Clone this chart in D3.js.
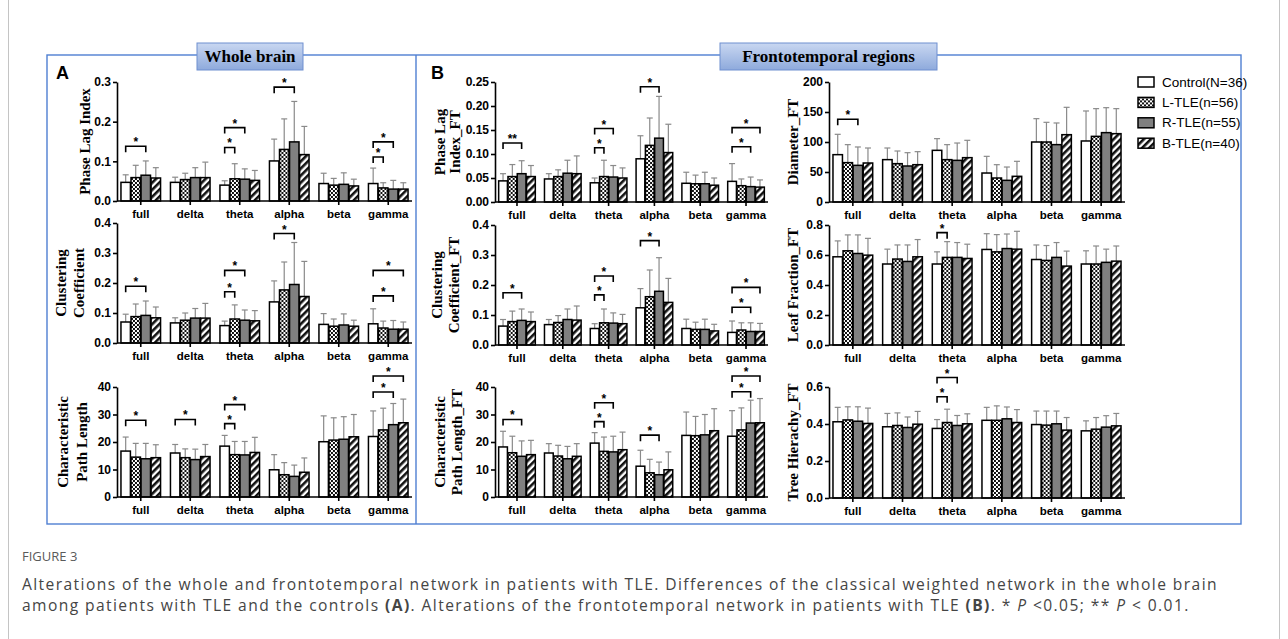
<!DOCTYPE html>
<html>
<head>
<meta charset="utf-8">
<script src="https://cdn.jsdelivr.net/npm/d3@7"></script>
<style>
body { margin: 0; background: #fff; }
svg { display: block; }
</style>
</head>
<body>
<script>
var bands = ["full", "delta", "theta", "alpha", "beta", "gamma"];
var groups = ["Control(N=36)", "L-TLE(n=56)", "R-TLE(n=55)", "B-TLE(n=40)"];

// significance rows: [band, from group, to group, bracket level (axis units), label]

// Whole brain: phase lag index
var pliTicks = [0, 0.1, 0.2, 0.3];
var pliMean = [[0.047, 0.059, 0.065, 0.058], [0.047, 0.054, 0.059, 0.059], [0.040, 0.056, 0.055, 0.052],
               [0.101, 0.130, 0.149, 0.117], [0.044, 0.040, 0.042, 0.038], [0.044, 0.033, 0.030, 0.030]];
var pliUpper = [[0.066, 0.090, 0.101, 0.084], [0.060, 0.070, 0.084, 0.098], [0.051, 0.094, 0.081, 0.077],
                [0.156, 0.207, 0.251, 0.188], [0.070, 0.057, 0.071, 0.055], [0.083, 0.046, 0.052, 0.046]];
var pliSig = [["full", 0, 2, 0.138, "*"], ["theta", 0, 1, 0.135, "*"], ["theta", 0, 2, 0.185, "*"],
              ["alpha", 0, 2, 0.287, "*"], ["gamma", 0, 1, 0.111, "*"], ["gamma", 0, 2, 0.149, "*"]];

// Whole brain: clustering coefficient
var ccTicks = [0, 0.1, 0.2, 0.3, 0.4];
var ccMean = [[0.070, 0.088, 0.092, 0.084], [0.067, 0.076, 0.083, 0.083], [0.058, 0.080, 0.076, 0.074],
              [0.137, 0.177, 0.195, 0.155], [0.062, 0.056, 0.060, 0.056], [0.064, 0.050, 0.046, 0.046]];
var ccUpper = [[0.096, 0.130, 0.140, 0.120], [0.084, 0.100, 0.115, 0.132], [0.073, 0.127, 0.110, 0.108],
               [0.207, 0.270, 0.335, 0.272], [0.098, 0.080, 0.097, 0.076], [0.114, 0.073, 0.075, 0.070]];
var ccSig = [["full", 0, 2, 0.189, "*"], ["theta", 0, 1, 0.171, "*"], ["theta", 0, 2, 0.242, "*"],
             ["alpha", 0, 2, 0.365, "*"], ["gamma", 0, 2, 0.157, "*"], ["gamma", 0, 3, 0.242, "*"]];

// Whole brain: characteristic path length
var cplTicks = [0, 10, 20, 30, 40];
var cplMean = [[16.7, 14.5, 13.9, 14.3], [16.0, 14.3, 13.6, 14.7], [18.5, 15.4, 15.3, 16.2],
               [9.9, 8.1, 7.5, 9.0], [20.1, 20.7, 21.0, 21.9], [22.0, 24.4, 26.3, 27.0]];
var cplUpper = [[21.8, 19.5, 19.5, 19.0], [19.1, 17.5, 17.4, 19.1], [22.4, 20.2, 20.2, 21.7],
                [15.4, 12.5, 11.6, 14.2], [29.5, 28.8, 29.2, 30.0], [31.3, 32.3, 34.0, 35.6]];
var cplSig = [["full", 0, 2, 27.9, "*"], ["delta", 0, 2, 28.2, "*"], ["theta", 0, 1, 26.7, "*"], ["theta", 0, 2, 33.6, "*"],
              ["gamma", 0, 2, 38.2, "*"], ["gamma", 0, 3, 44.0, "*"]];

// Frontotemporal: phase lag index
var pliFtTicks = [0, 0.05, 0.10, 0.15, 0.20, 0.25];
var pliFtMean = [[0.044, 0.053, 0.059, 0.053], [0.048, 0.053, 0.060, 0.059], [0.040, 0.053, 0.052, 0.050],
                 [0.090, 0.118, 0.133, 0.103], [0.039, 0.038, 0.038, 0.035], [0.043, 0.034, 0.032, 0.031]];
var pliFtUpper = [[0.059, 0.078, 0.086, 0.076], [0.059, 0.067, 0.087, 0.096], [0.050, 0.087, 0.076, 0.071],
                  [0.138, 0.175, 0.220, 0.162], [0.062, 0.056, 0.062, 0.050], [0.080, 0.048, 0.052, 0.046]];
var pliFtSig = [["full", 0, 2, 0.123, "**"], ["theta", 0, 1, 0.113, "*"], ["theta", 0, 2, 0.153, "*"],
                ["alpha", 0, 2, 0.240, "*"], ["gamma", 0, 2, 0.115, "*"], ["gamma", 0, 3, 0.155, "*"]];

// Frontotemporal: clustering coefficient
var ccFtTicks = [0, 0.1, 0.2, 0.3, 0.4];
var ccFtMean = [[0.063, 0.078, 0.082, 0.078], [0.068, 0.075, 0.085, 0.083], [0.055, 0.074, 0.073, 0.071],
                [0.124, 0.161, 0.179, 0.142], [0.055, 0.052, 0.052, 0.047], [0.042, 0.050, 0.045, 0.045]];
var ccFtUpper = [[0.085, 0.113, 0.120, 0.110], [0.085, 0.098, 0.120, 0.130], [0.071, 0.120, 0.107, 0.102],
                 [0.188, 0.250, 0.291, 0.222], [0.086, 0.076, 0.086, 0.069], [0.080, 0.074, 0.074, 0.072]];
var ccFtSig = [["full", 0, 2, 0.174, "*"], ["theta", 0, 1, 0.167, "*"], ["theta", 0, 2, 0.230, "*"],
               ["alpha", 0, 2, 0.348, "*"], ["gamma", 0, 2, 0.126, "*"], ["gamma", 0, 3, 0.192, "*"]];

// Frontotemporal: characteristic path length
var cplFtTicks = [0, 10, 20, 30, 40];
var cplFtMean = [[18.2, 16.1, 14.8, 15.4], [16.0, 14.9, 13.9, 14.8], [19.6, 16.6, 16.4, 17.2],
                 [11.2, 8.8, 8.1, 9.9], [22.4, 22.3, 22.6, 24.1], [22.1, 24.4, 26.9, 27.0]];
var cplFtUpper = [[23.9, 22.1, 20.4, 20.6], [19.4, 18.8, 18.4, 19.4], [23.4, 21.8, 22.1, 23.6],
                  [17.0, 13.7, 12.7, 16.4], [30.9, 29.3, 30.0, 32.1], [31.4, 32.4, 35.2, 35.8]];
var cplFtSig = [["full", 0, 2, 28.2, "*"], ["theta", 0, 1, 27.4, "*"], ["theta", 0, 2, 34.3, "*"],
                ["alpha", 0, 2, 22.5, "*"], ["gamma", 0, 2, 38.3, "*"], ["gamma", 0, 3, 44.0, "*"]];

// Frontotemporal: diameter
var diaTicks = [0, 50, 100, 150, 200];
var diaMean = [[78.9, 65.6, 61.1, 65.0], [70.6, 63.9, 60.0, 62.2], [86.1, 70.6, 69.4, 73.9],
               [48.3, 40.0, 36.1, 42.8], [100.0, 100.0, 95.6, 112.2], [101.7, 109.4, 115.6, 113.9]];
var diaUpper = [[112.8, 95.6, 91.7, 90.0], [90.0, 85.0, 82.2, 83.9], [105.6, 95.6, 98.3, 102.8],
                [76.1, 62.2, 58.3, 67.8], [138.9, 132.8, 131.7, 157.8], [151.7, 155.6, 157.2, 155.6]];
var diaSig = [["full", 0, 2, 137.8, "*"]];

// Frontotemporal: leaf fraction
var leafTicks = [0, 0.2, 0.4, 0.6, 0.8];
var leafMean = [[0.588, 0.628, 0.610, 0.599], [0.540, 0.573, 0.557, 0.588], [0.540, 0.584, 0.584, 0.577],
                [0.637, 0.621, 0.643, 0.639], [0.570, 0.564, 0.584, 0.526], [0.540, 0.540, 0.551, 0.559]];
var leafUpper = [[0.694, 0.734, 0.734, 0.711], [0.639, 0.667, 0.667, 0.703], [0.621, 0.689, 0.683, 0.672],
                 [0.742, 0.736, 0.740, 0.758], [0.667, 0.663, 0.683, 0.626], [0.628, 0.660, 0.639, 0.660]];
var leafSig = [["theta", 0, 1, 0.749, "*"]];

// Frontotemporal: tree hierarchy
var treeTicks = [0, 0.2, 0.4, 0.6];
var treeMean = [[0.412, 0.422, 0.415, 0.403], [0.385, 0.392, 0.381, 0.399], [0.376, 0.408, 0.392, 0.401],
                [0.420, 0.420, 0.428, 0.408], [0.397, 0.394, 0.401, 0.367], [0.363, 0.372, 0.383, 0.390]];
var treeUpper = [[0.490, 0.493, 0.493, 0.486], [0.457, 0.460, 0.438, 0.468], [0.424, 0.480, 0.446, 0.455],
                 [0.490, 0.498, 0.492, 0.478], [0.470, 0.470, 0.470, 0.435], [0.417, 0.435, 0.445, 0.457]];
var treeSig = [["theta", 0, 1, 0.547, "*"], ["theta", 0, 2, 0.651, "*"]];

var width = 1288, height = 639;
var sans = "'Liberation Sans', Arial, sans-serif";
var serif = "'Liberation Serif', 'Times New Roman', serif";

var svg = d3.select("body").append("svg").attr("width", width).attr("height", height);
var defs = svg.append("defs");

// checker for L-TLE
var chk = defs.append("pattern").attr("id", "chk").attr("patternUnits", "userSpaceOnUse")
    .attr("width", 4).attr("height", 4);
chk.append("rect").attr("width", 4).attr("height", 4).attr("fill", "#fff");
chk.append("rect").attr("width", 2).attr("height", 2).attr("fill", "#111");
chk.append("rect").attr("x", 2).attr("y", 2).attr("width", 2).attr("height", 2).attr("fill", "#111");

// hatch for B-TLE
var hat = defs.append("pattern").attr("id", "hat").attr("patternUnits", "userSpaceOnUse")
    .attr("width", 5).attr("height", 5).attr("patternTransform", "rotate(45)");
hat.append("rect").attr("width", 5).attr("height", 5).attr("fill", "#fff");
hat.append("rect").attr("width", 2.6).attr("height", 5).attr("fill", "#111");

var grad = defs.append("linearGradient").attr("id", "boxgrad").attr("x1", 0).attr("y1", 0).attr("x2", 0).attr("y2", 1);
grad.append("stop").attr("offset", "0%").attr("stop-color", "#c9d7f1");
grad.append("stop").attr("offset", "100%").attr("stop-color", "#8eaadc");

var fills = ["#fff", "url(#chk)", "#808080", "url(#hat)"];

// card edges
svg.append("line").attr("x1", 8.5).attr("x2", 8.5).attr("y1", 0).attr("y2", height).attr("stroke", "#c4c4c4");
svg.append("line").attr("x1", 1279.5).attr("x2", 1279.5).attr("y1", 0).attr("y2", height).attr("stroke", "#c4c4c4");

// blue frame
var blue = "#4f7fd2";
svg.append("rect").attr("x", 47).attr("y", 55).attr("width", 1194).attr("height", 469)
    .attr("fill", "none").attr("stroke", blue).attr("stroke-width", 1.4);
svg.append("line").attr("x1", 416).attr("x2", 416).attr("y1", 55).attr("y2", 524)
    .attr("stroke", blue).attr("stroke-width", 1.4);

function titleBox(x0, x1, label) {
    svg.append("rect").attr("x", x0).attr("y", 43).attr("width", x1 - x0).attr("height", 27)
        .attr("fill", "url(#boxgrad)").attr("stroke", "#6f8fd0").attr("stroke-width", 1);
    svg.append("text").attr("x", (x0 + x1) / 2).attr("y", 62).attr("text-anchor", "middle")
        .attr("font-family", serif).attr("font-weight", "bold").attr("font-size", 17).text(label);
}
titleBox(197, 303, "Whole brain");
titleBox(720, 937, "Frontotemporal regions");

svg.append("text").attr("x", 56).attr("y", 79).attr("font-family", sans).attr("font-weight", "bold")
    .attr("font-size", 18).text("A");
svg.append("text").attr("x", 431).attr("y", 79).attr("font-family", sans).attr("font-weight", "bold")
    .attr("font-size", 18).text("B");

var charts = [
    {mean: pliMean, upper: pliUpper, sig: pliSig, ticks: pliTicks, fmt: ".1f", x: [117, 412], y: [201, 82],
     title: ["Phase Lag Index"], tx: [85]},
    {mean: ccMean, upper: ccUpper, sig: ccSig, ticks: ccTicks, fmt: ".1f", x: [117, 412], y: [343, 223],
     title: ["Clustering", "Coefficient"], tx: [61, 79]},
    {mean: cplMean, upper: cplUpper, sig: cplSig, ticks: cplTicks, fmt: "d", x: [117, 412], y: [497, 387],
     title: ["Characteristic", "Path Length"], tx: [63, 82]},
    {mean: pliFtMean, upper: pliFtUpper, sig: pliFtSig, ticks: pliFtTicks, fmt: ".2f", x: [495, 768], y: [202, 82],
     title: ["Phase Lag", "Index_FT"], tx: [440, 455]},
    {mean: ccFtMean, upper: ccFtUpper, sig: ccFtSig, ticks: ccFtTicks, fmt: ".1f", x: [495, 768], y: [345, 225],
     title: ["Clustering", "Coefficient_FT"], tx: [437, 454]},
    {mean: cplFtMean, upper: cplFtUpper, sig: cplFtSig, ticks: cplFtTicks, fmt: "d", x: [495, 768], y: [497, 387],
     title: ["Characteristic", "Path Length_FT"], tx: [440, 457]},
    {mean: diaMean, upper: diaUpper, sig: diaSig, ticks: diaTicks, fmt: "d", x: [829, 1125], y: [202, 82],
     title: ["Diameter_FT"], tx: [793]},
    {mean: leafMean, upper: leafUpper, sig: leafSig, ticks: leafTicks, fmt: ".1f", x: [829, 1125], y: [345, 225],
     title: ["Leaf Fraction_FT"], tx: [793]},
    {mean: treeMean, upper: treeUpper, sig: treeSig, ticks: treeTicks, fmt: ".1f", x: [829, 1125], y: [498, 387],
     title: ["Tree Hierachy_FT"], tx: [793]}
];

function drawChart(c) {
    var g = svg.append("g");
    var x = d3.scaleBand().domain(bands).range(c.x).paddingInner(0.2).paddingOuter(0.08);
    var xs = d3.scaleBand().domain(d3.range(groups.length)).range([0, x.bandwidth()]).paddingInner(0.06);
    var y = d3.scaleLinear().domain([0, c.ticks[c.ticks.length - 1]]).range(c.y);
    var bw = xs.bandwidth();

    bands.forEach(function(b, i) {
        var gg = g.append("g").attr("transform", "translate(" + x(b) + ",0)");
        var err = gg.selectAll("g.err").data(c.upper[i]).enter().append("g").attr("class", "err");
        err.append("line")
            .attr("x1", function(d, j) { return xs(j) + bw / 2; })
            .attr("x2", function(d, j) { return xs(j) + bw / 2; })
            .attr("y1", function(d, j) { return y(c.mean[i][j]); })
            .attr("y2", function(d) { return y(d); });
        err.append("line")
            .attr("x1", function(d, j) { return xs(j) + bw / 2 - 3; })
            .attr("x2", function(d, j) { return xs(j) + bw / 2 + 3; })
            .attr("y1", function(d) { return y(d); })
            .attr("y2", function(d) { return y(d); });
        err.selectAll("line").attr("stroke", "#8a8a8a").attr("stroke-width", 1.2);

        gg.selectAll("rect").data(c.mean[i]).enter().append("rect")
            .attr("x", function(d, j) { return xs(j); })
            .attr("y", function(d) { return y(d); })
            .attr("width", bw)
            .attr("height", function(d) { return y(0) - y(d); })
            .attr("fill", function(d, j) { return fills[j]; })
            .attr("stroke", "#000").attr("stroke-width", 1.5);
    });

    // significance brackets
    c.sig.forEach(function(s) {
        var xa = x(s[0]) + xs(s[1]) + bw / 2;
        var xb = x(s[0]) + xs(s[2]) + bw / 2;
        var yy = y(s[3]);
        g.append("path").attr("d", "M" + xa + "," + (yy + 6) + "V" + yy + "H" + xb + "V" + (yy + 6))
            .attr("fill", "none").attr("stroke", "#000").attr("stroke-width", 1.6);
        g.append("text").attr("x", (xa + xb) / 2).attr("y", yy).attr("text-anchor", "middle")
            .attr("font-family", sans).attr("font-weight", "bold").attr("font-size", 12).text(s[4]);
    });

    var yAxis = d3.axisLeft(y).tickValues(c.ticks).tickFormat(d3.format(c.fmt))
        .tickSize(4).tickSizeOuter(0).tickPadding(2);
    var xAxis = d3.axisBottom(x).tickSize(4).tickSizeOuter(0).tickPadding(5);

    var ya = g.append("g").attr("transform", "translate(" + c.x[0] + ",0)").call(yAxis);
    var xa = g.append("g").attr("transform", "translate(0," + c.y[0] + ")").call(xAxis);
    xa.select(".domain").attr("d", "M" + c.x[0] + ",0H" + c.x[1]);
    [ya, xa].forEach(function(a) {
        a.selectAll(".domain, .tick line").attr("stroke", "#000").attr("stroke-width", 1.6);
        a.selectAll("text").attr("font-family", sans).attr("font-weight", "bold").attr("fill", "#000");
    });
    ya.selectAll("text").attr("font-size", 12);
    xa.selectAll("text").attr("font-size", 11.5);

    var yc = (c.y[0] + c.y[1]) / 2;
    c.title.forEach(function(t, k) {
        svg.append("text").attr("transform", "translate(" + c.tx[k] + "," + yc + ") rotate(-90)")
            .attr("text-anchor", "middle").attr("dominant-baseline", "central")
            .attr("font-family", serif).attr("font-weight", "bold").attr("font-size", 15).text(t);
    });
}

charts.forEach(drawChart);

// legend
var leg = svg.append("g").attr("transform", "translate(1138,82)");
var li = leg.selectAll("g").data(groups).enter().append("g")
    .attr("transform", function(d, i) { return "translate(0," + i * 20.4 + ")"; });
li.append("rect").attr("x", 0).attr("y", -5).attr("width", 16).attr("height", 10)
    .attr("fill", function(d, i) { return fills[i]; }).attr("stroke", "#000").attr("stroke-width", 1.5);
li.append("text").attr("x", 24).attr("y", 0).attr("dominant-baseline", "central")
    .attr("font-family", sans).attr("font-size", 13.5).text(function(d) { return d; });

// caption
var capFont = "'Open Sans', 'Noto Sans', sans-serif";
svg.append("text").attr("x", 22).attr("y", 561).attr("font-family", capFont).attr("font-size", 13)
    .attr("fill", "#5a5a5a").text("FIGURE 3");

var cap1 = "Alterations of the whole and frontotemporal network in patients with TLE. Differences of the classical weighted network in the whole brain";
var line1 = svg.append("text").attr("x", 22).attr("y", 590).attr("font-family", capFont)
    .attr("font-size", 15).attr("fill", "#454545").text(cap1);
var capSize = Math.min(15.6, 15 * 1196 / line1.node().getComputedTextLength());
line1.attr("font-size", capSize);
var ls = Math.max(0, (1196 - line1.node().getComputedTextLength()) / cap1.length);
line1.attr("letter-spacing", ls);

var line2 = svg.append("text").attr("x", 22).attr("y", 611).attr("font-family", capFont)
    .attr("font-size", capSize).attr("fill", "#454545").attr("letter-spacing", ls);
[["among patients with TLE and the controls ", ""], ["(A)", "b"], [". Alterations of the frontotemporal network in patients with TLE ", ""],
 ["(B)", "b"], [". * ", ""], ["P", "i"], [" <0.05; ** ", ""], ["P", "i"], [" < 0.01.", ""]].forEach(function(p) {
    var ts = line2.append("tspan").text(p[0]);
    if (p[1] === "b") ts.attr("font-weight", "bold");
    if (p[1] === "i") ts.attr("font-style", "italic");
});
</script>
</body>
</html>
